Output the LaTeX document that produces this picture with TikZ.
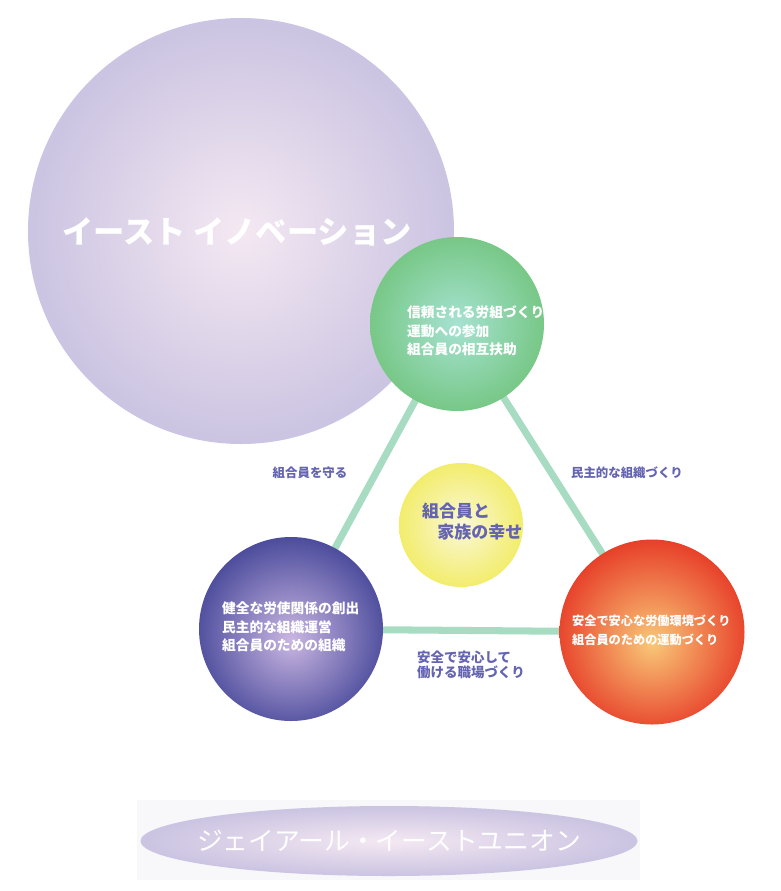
\documentclass[tikz,border=0pt]{standalone}
\usepackage{fontspec}
\newfontfamily\jp{Noto Sans CJK JP}
\usepackage{tikz}
\usetikzlibrary{shapes.geometric, backgrounds}

\definecolor{lavout}{HTML}{B2AED8}
\definecolor{lavin}{HTML}{F4E8F2}
\definecolor{greenout}{HTML}{5CB85A}
\definecolor{greenin}{HTML}{A6E2D2}
\definecolor{yellowout}{HTML}{EEE62C}
\definecolor{yellowin}{HTML}{FAF8D8}
\definecolor{blueout}{HTML}{363A90}
\definecolor{bluein}{HTML}{CAB6E2}
\definecolor{redout}{HTML}{E4281C}
\definecolor{redin}{HTML}{F9C878}
\definecolor{linkgreen}{HTML}{A8DCC2}
\definecolor{tagblue}{HTML}{6464B0}
\definecolor{panelgray}{HTML}{F8F7FA}

\colorlet{glowin}{white}
\colorlet{glowout}{black}
\pgfdeclareradialshading[glowin,glowout]{glow}{\pgfpoint{0bp}{0bp}}{color(0bp)=(glowin); color(40bp)=(glowout); color(50bp)=(glowout)}
\pgfdeclareradialshading[glowin,glowout]{spot}{\pgfpoint{0bp}{-3bp}}{color(0bp)=(glowin); color(31bp)=(glowout); color(50bp)=(glowout)}
\tikzset{glow in/.code={\colorlet{glowin}{#1}}, glow out/.code={\colorlet{glowout}{#1}}}

\tikzstyle{ball} = [circle, inner sep=0pt, shading=glow]
\tikzstyle{inside} = [anchor=west, align=left, text=white, font=\jp\bfseries\fontsize{11.7}{15.8}\selectfont]
\tikzstyle{tag} = [text=tagblue, font=\jp\bfseries\fontsize{10.6}{13}\selectfont]
\tikzstyle{link} = [line width=6pt, draw=linkgreen]

\begin{document}
\begin{tikzpicture}[x=0.03cm, y=-0.03cm]
   \useasboundingbox (0,0) rectangle (781,891);
   % circles
   \node (east) [ball, glow in=lavin, glow out=lavout, minimum size=12.78cm] at (241,231) {};
   \node (trust) [ball, glow in=greenin, glow out=greenout, minimum size=5.22cm] at (457,324) {};
   \node (family) [ball, glow in=yellowin, glow out=yellowout, minimum size=3.72cm] at (461,525) {};
   \node (sound) [ball, shading=spot, glow in=bluein, glow out=blueout, minimum size=5.52cm] at (291,629) {};
   \node (safe) [ball, shading=spot, glow in=redin, glow out=redout, minimum size=5.55cm] at (652,632) {};
   % links
   \begin{scope}[on background layer]
      \fill [panelgray] (137,800) rectangle (640,880);
      \draw [link] (trust.center) -- (sound.center);
      \draw [link] (trust.center) -- (safe.center);
      \draw [link] (sound.center) -- (safe.center);
   \end{scope}
   % texts
   \node (eastname) [text=white, font=\jp\bfseries\fontsize{26.7}{30}\selectfont] at (237,232) {イースト イノベーション};
   \node (trusttext) [inside] at (403,331) {信頼される労組づくり\\運動への参加\\組合員の相互扶助};
   \node (soundtext) [inside] at (218,627) {健全な労使関係の創出\\民主的な組織運営\\組合員のための組織};
   \node (safetext) [inside, font=\jp\bfseries\fontsize{10.4}{16}\selectfont] at (568,630) {安全で安心な労働環境づくり\\組合員のための運動づくり};
   \node (familytext) [tag, anchor=west, align=left, font=\jp\bfseries\fontsize{14.5}{18}\selectfont] at (418,522) {組合員と\\\hspace*{0.9em}家族の幸せ};
   \node (protect) [tag] at (310,473) {組合員を守る};
   \node (democracy) [tag] at (627,473) {民主的な組織づくり};
   \node (workplace) [tag, anchor=west, align=left, font=\jp\bfseries\fontsize{11.5}{13}\selectfont] at (413,665) {安全で安心して\\働ける職場づくり};
   % union name
   \node (union) [ellipse, shading=glow, glow in=lavin, glow out=lavout, inner sep=0pt, minimum width=14.91cm, minimum height=2.1cm] at (389,841) {};
   \node (unionname) [text=white, font=\jp\fontsize{22}{24}\selectfont] at (union.center) {ジェイアール・イーストユニオン};
\end{tikzpicture}
\end{document}
